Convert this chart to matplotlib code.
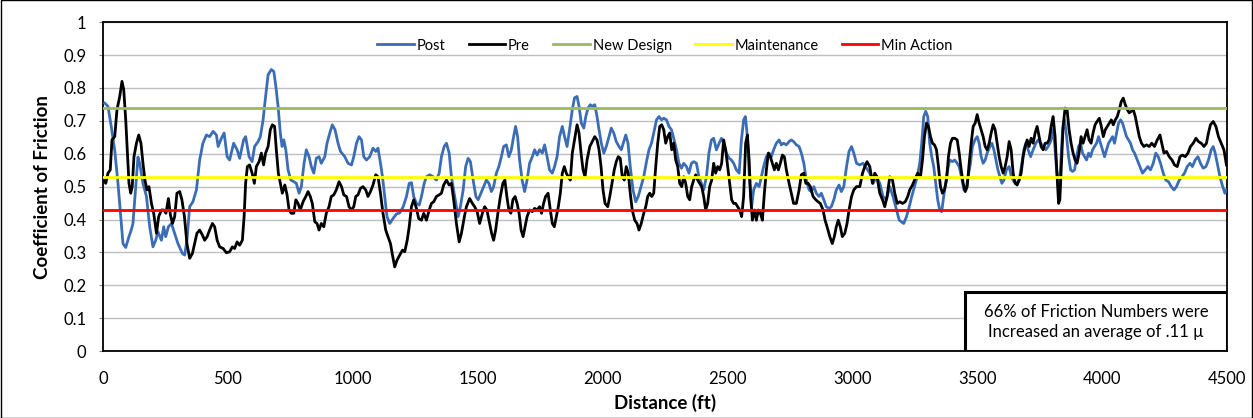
import matplotlib
matplotlib.use("Agg")
import matplotlib.pyplot as plt
from matplotlib.patches import Rectangle
import numpy as np

plt.rcParams['font.family'] = ['Lato', 'DejaVu Sans']

# (distance ft, coefficient of friction)
post = [
    (7, .754), (20, .744), (33, .683), (47, .61), (60, .51), (73, .39), (80, .327), (91, .315), (104, .348), (113, .368),
    (120, .388), (130, .49), (140, .59), (147, .57), (160, .51), (174, .47), (187, .378), (200, .317), (211, .337), (220, .363),
    (234, .337), (243, .378), (251, .348), (262, .378), (274, .388), (287, .358), (300, .327), (318, .297), (327, .292), (336, .337),
    (347, .439), (360, .454), (374, .49), (387, .581), (400, .632), (414, .657), (427, .652), (441, .668), (454, .657), (461, .622),
    (474, .647), (485, .663), (497, .591), (507, .581), (523, .632), (537, .612), (547, .586), (563, .642), (571, .652), (585, .591),
    (597, .576), (607, .622), (621, .637), (630, .652), (641, .703), (651, .774), (661, .84), (674, .856), (684, .85), (692, .805),
    (701, .744), (710, .663), (717, .622), (724, .642), (732, .612), (741, .551), (752, .52), (764, .515), (774, .51), (785, .48),
    (794, .50), (805, .571), (814, .612), (825, .591), (834, .561), (844, .541), (854, .586), (865, .591), (874, .571), (888, .591),
    (897, .632), (908, .663), (918, .688), (929, .673), (941, .632), (951, .607), (968, .591), (981, .571), (995, .566), (1004, .591),
    (1015, .632), (1025, .652), (1035, .642), (1044, .591), (1055, .581), (1068, .591), (1081, .617), (1092, .607), (1101, .617), (1111, .571),
    (1119, .53), (1128, .47), (1137, .409), (1148, .388), (1161, .403), (1175, .417), (1188, .42), (1202, .439), (1215, .47), (1226, .51),
    (1235, .512), (1244, .47), (1255, .449), (1266, .444), (1275, .47), (1286, .51), (1295, .53), (1308, .536), (1322, .53), (1335, .52),
    (1346, .541), (1355, .591), (1366, .622), (1375, .632), (1386, .602), (1395, .53), (1408, .47), (1422, .409), (1431, .439), (1442, .49),
    (1452, .561), (1462, .586), (1471, .576), (1482, .52), (1493, .47), (1502, .46),
    (1521, .495), (1535, .52), (1545, .51), (1555, .485), (1564, .50), (1575, .541), (1585, .561), (1595, .591), (1604, .622), (1615, .627),
    (1625, .591), (1635, .612), (1644, .652), (1652, .683), (1660, .652), (1668, .581), (1678, .52), (1688, .485), (1698, .52), (1708, .571),
    (1719, .591), (1728, .612), (1738, .596), (1748, .612), (1759, .602), (1768, .627), (1778, .591), (1788, .551), (1799, .541), (1808, .561),
    (1818, .591), (1828, .652), (1839, .683), (1848, .652), (1858, .622), (1868, .673), (1879, .734), (1888, .77), (1898, .774), (1906, .744),
    (1915, .693), (1925, .678), (1933, .713), (1942, .739), (1951, .749), (1959, .744), (1969, .749), (1978, .713), (1986, .673), (1995, .632),
    (2005, .602), (2015, .622), (2026, .652), (2035, .678), (2045, .663), (2055, .637), (2066, .622), (2075, .612), (2085, .637), (2093, .657),
    (2102, .632), (2111, .561), (2122, .49), (2133, .454), (2143, .47), (2154, .50), (2165, .53), (2176, .576), (2186, .612), (2196, .632),
    (2205, .663), (2216, .703), (2226, .713), (2236, .703), (2245, .708), (2256, .703), (2266, .683), (2276, .673), (2285, .647), (2296, .612),
    (2306, .571), (2316, .556), (2325, .571), (2336, .561), (2346, .541), (2356, .571), (2365, .576), (2376, .571), (2386, .53), (2396, .51),
    (2405, .49), (2416, .53), (2426, .602), (2436, .642), (2445, .647), (2456, .612), (2467, .632), (2476, .647), (2485, .632), (2496, .602),
    (2507, .586), (2516, .581), (2525, .571), (2536, .551), (2547, .541), (2556, .642), (2565, .703), (2572, .713), (2580, .652), (2589, .51),
    (2597, .439), (2605, .49), (2616, .51), (2627, .50), (2636, .53), (2645, .561), (2656, .591), (2667, .602), (2676, .591), (2685, .612),
    (2696, .632), (2707, .642), (2716, .627), (2725, .632), (2736, .627), (2747, .637), (2756, .642), (2765, .637), (2776, .627), (2787, .622),
    (2796, .602), (2806, .571), (2816, .52), (2827, .49), (2836, .485), (2846, .50), (2856, .48), (2867, .47), (2876, .48), (2886, .46),
    (2896, .439), (2907, .434), (2916, .439), (2926, .46), (2936, .49), (2947, .505), (2956, .485), (2966, .50), (2977, .561), (2987, .607),
    (2997, .622), (3006, .602), (3017, .571),
    (3030, .566), (3043, .571), (3057, .556), (3070, .541), (3083, .51), (3097, .53), (3110, .51), (3123, .47), (3137, .46), (3150, .50),
    (3163, .47), (3177, .429), (3188, .398), (3197, .393), (3206, .388), (3217, .409), (3228, .439), (3238, .47), (3249, .50), (3260, .53),
    (3270, .571), (3278, .632), (3286, .713), (3294, .729), (3302, .713), (3310, .632), (3318, .591), (3326, .561), (3334, .51), (3342, .46),
    (3350, .429), (3358, .424), (3366, .47), (3374, .51), (3382, .551), (3390, .581), (3401, .576), (3410, .581), (3420, .571), (3428, .561),
    (3437, .53), (3447, .49), (3455, .49), (3464, .53), (3473, .571), (3481, .622), (3491, .642), (3500, .652), (3508, .632), (3516, .591),
    (3524, .571), (3532, .581), (3540, .602), (3551, .622), (3559, .632), (3567, .612), (3575, .581), (3583, .551), (3591, .53), (3599, .51),
    (3607, .52), (3617, .551), (3628, .561), (3637, .53), (3647, .515), (3657, .51), (3668, .52), (3677, .561), (3687, .612), (3695, .632),
    (3704, .612), (3714, .591), (3724, .612), (3735, .632), (3744, .642), (3754, .632), (3764, .622), (3775, .612), (3784, .622), (3794, .637),
    (3802, .673), (3810, .632), (3818, .551), (3826, .49), (3834, .561), (3842, .673), (3850, .703), (3858, .652), (3866, .591), (3874, .551),
    (3882, .546), (3890, .551), (3898, .591), (3906, .622), (3914, .632), (3922, .602), (3930, .591), (3938, .581), (3946, .602), (3954, .591),
    (3962, .612), (3970, .622), (3978, .632), (3986, .652), (3994, .632), (4002, .612), (4010, .591), (4018, .612), (4026, .632), (4034, .642),
    (4042, .652), (4050, .632), (4058, .663), (4066, .693), (4074, .703), (4082, .693), (4090, .673), (4098, .652), (4106, .642), (4114, .632),
    (4122, .612), (4130, .602), (4141, .581), (4151, .561), (4162, .541), (4173, .551), (4183, .561), (4194, .551), (4205, .571), (4215, .602),
    (4225, .591), (4234, .571), (4245, .541), (4255, .52), (4266, .515), (4277, .50), (4288, .49), (4298, .50), (4309, .52), (4320, .53),
    (4330, .541), (4341, .561), (4352, .571), (4362, .561), (4373, .581), (4384, .591), (4394, .571), (4405, .556), (4416, .561), (4426, .581),
    (4437, .612), (4445, .622), (4453, .602), (4461, .571), (4472, .53), (4483, .50), (4492, .48), (4498, .49),
]

pre = [
    (3, .52), (11, .51), (20, .541), (29, .551), (36, .642), (47, .652), (56, .734), (67, .774), (76, .82), (83, .795),
    (91, .703), (97, .612), (104, .51), (111, .48), (117, .50), (124, .591), (134, .632), (143, .657), (152, .632), (160, .571),
    (168, .52), (176, .49), (184, .50), (194, .449), (203, .419), (214, .358), (223, .409), (234, .429), (243, .429), (252, .419),
    (262, .464), (270, .414), (278, .388), (287, .409), (296, .48), (307, .485), (316, .46), (326, .409), (336, .327), (347, .282),
    (358, .297), (367, .327), (376, .358), (387, .368), (398, .353), (407, .337), (417, .348), (427, .368), (438, .388), (447, .378),
    (457, .337), (467, .317), (481, .312), (494, .299), (507, .302), (518, .317), (527, .312), (537, .332), (547, .322), (558, .337),
    (565, .409), (571, .51), (578, .561), (587, .566), (597, .541), (606, .51), (614, .561), (625, .576), (634, .602), (643, .566),
    (651, .602), (661, .622), (670, .673), (678, .688), (687, .683), (694, .612), (702, .541), (710, .51), (718, .48), (728, .505),
    (737, .475), (745, .429), (754, .419), (764, .419), (772, .46), (781, .449), (790, .429), (801, .454), (812, .47), (821, .485),
    (830, .47), (838, .449), (848, .393), (857, .388), (865, .368), (874, .388), (884, .378), (894, .419), (905, .439), (914, .47),
    (924, .475), (934, .49), (945, .515), (955, .50), (964, .475), (975, .47), (985, .439), (995, .429), (1004, .439), (1012, .47),
    (1021, .475), (1031, .495), (1041, .50), (1052, .49), (1061, .47), (1071, .485), (1081, .505), (1092, .536), (1101, .53), (1111, .48),
    (1121, .419), (1132, .368), (1141, .348), (1151, .327), (1159, .292), (1168, .256), (1177, .276), (1188, .292), (1199, .307), (1208, .302),
    (1218, .337), (1226, .378), (1235, .439), (1244, .46), (1255, .434), (1264, .403), (1275, .398), (1284, .419), (1295, .398), (1306, .429),
    (1315, .449), (1324, .454), (1335, .47), (1346, .475), (1355, .48), (1364, .505), (1375, .52), (1386, .505), (1395, .51), (1404, .46),
    (1415, .388), (1426, .332), (1435, .358), (1447, .409), (1455, .439), (1468, .464), (1479, .449), (1488, .439), (1498, .424),
    (1508, .388), (1519, .419), (1528, .439), (1537, .429), (1548, .388), (1556, .358), (1564, .337), (1572, .368), (1581, .419), (1591, .47),
    (1601, .51), (1609, .52), (1617, .47), (1625, .429), (1633, .419), (1641, .46), (1650, .47), (1658, .449), (1666, .419), (1674, .368),
    (1682, .348), (1690, .378), (1698, .409), (1708, .429), (1719, .424), (1728, .434), (1738, .429), (1748, .439), (1756, .419), (1764, .449),
    (1772, .47), (1782, .48), (1791, .429), (1799, .388), (1807, .378), (1815, .409), (1823, .439), (1831, .48), (1839, .541), (1847, .561),
    (1855, .541), (1863, .53), (1871, .52), (1879, .602), (1888, .642), (1898, .688), (1906, .663), (1914, .602), (1922, .551), (1930, .53),
    (1938, .581), (1949, .622), (1959, .637), (1969, .652), (1978, .642), (1986, .612), (1994, .561), (2002, .49), (2010, .449), (2021, .439),
    (2029, .47), (2038, .51), (2047, .551), (2055, .576), (2063, .591), (2071, .586), (2079, .53), (2087, .52), (2095, .561), (2103, .541),
    (2111, .48), (2119, .429), (2129, .398), (2138, .388), (2146, .368), (2155, .388), (2165, .419), (2173, .439), (2181, .47), (2189, .48),
    (2197, .47), (2205, .48), (2213, .561), (2221, .632), (2229, .683), (2237, .688), (2245, .673), (2253, .632), (2261, .652), (2269, .663),
    (2277, .612), (2285, .632), (2293, .581), (2301, .561), (2309, .51), (2317, .50), (2325, .53), (2333, .51), (2341, .47), (2349, .46),
    (2357, .50), (2365, .52), (2373, .536), (2381, .52), (2389, .51), (2397, .50), (2405, .47), (2413, .429), (2421, .449), (2429, .50),
    (2437, .52), (2445, .571), (2453, .541), (2461, .561), (2469, .551), (2477, .571), (2485, .642), (2493, .612), (2501, .561), (2509, .51),
    (2517, .46), (2525, .449), (2533, .449), (2541, .439), (2549, .429), (2557, .409), (2565, .47), (2573, .632), (2580, .657), (2587, .581),
    (2593, .47), (2600, .398), (2608, .429), (2616, .398), (2624, .429), (2632, .419), (2640, .398), (2648, .48), (2656, .551), (2664, .602),
    (2672, .591), (2680, .571), (2688, .551), (2696, .571), (2704, .551), (2712, .571), (2720, .596), (2728, .591), (2736, .551), (2747, .51),
    (2756, .48), (2765, .449), (2776, .449), (2787, .49), (2796, .536), (2806, .541), (2814, .51), (2823, .51), (2832, .50), (2843, .47),
    (2854, .46), (2863, .454), (2872, .449), (2883, .429), (2891, .398), (2899, .378), (2910, .348), (2920, .327), (2928, .348), (2936, .378),
    (2944, .398), (2952, .378), (2960, .348), (2970, .358), (2979, .388), (2987, .429), (2997, .47), (3006, .49), (3017, .50),
    (3030, .50), (3041, .541), (3050, .561), (3059, .576), (3070, .561), (3081, .51), (3090, .541), (3099, .53), (3110, .48), (3121, .46),
    (3130, .439), (3139, .47), (3150, .53), (3161, .52), (3170, .48), (3180, .449), (3190, .454), (3201, .449), (3212, .454), (3222, .47),
    (3230, .49), (3241, .505), (3252, .525), (3262, .541), (3273, .53), (3281, .581), (3289, .652), (3297, .693), (3305, .683), (3313, .652),
    (3321, .632), (3329, .627), (3337, .612), (3345, .561), (3353, .50), (3361, .48), (3369, .49), (3377, .52), (3385, .591), (3393, .632),
    (3401, .647), (3410, .647), (3420, .642), (3428, .602), (3436, .551), (3444, .51), (3452, .485), (3460, .50), (3468, .571), (3476, .632),
    (3484, .683), (3492, .693), (3500, .719), (3508, .693), (3516, .673), (3524, .652), (3532, .622), (3540, .612), (3548, .632), (3556, .663),
    (3564, .688), (3572, .673), (3580, .632), (3588, .591), (3596, .561), (3604, .541), (3612, .561), (3620, .591), (3628, .637), (3636, .612),
    (3644, .541), (3652, .51), (3660, .505), (3668, .52), (3676, .541), (3684, .591), (3692, .622), (3700, .642), (3708, .622), (3716, .647),
    (3724, .632), (3732, .663), (3740, .683), (3748, .652), (3756, .622), (3764, .612), (3772, .632), (3780, .632), (3788, .642), (3796, .683),
    (3804, .713), (3812, .652), (3820, .53), (3826, .449), (3831, .46), (3838, .581), (3844, .683), (3852, .739), (3860, .734), (3868, .673),
    (3876, .632), (3884, .602), (3892, .581), (3900, .571), (3908, .602), (3916, .652), (3924, .632), (3932, .652), (3940, .673), (3948, .642),
    (3956, .632), (3964, .663), (3972, .688), (3980, .698), (3989, .708), (3997, .683), (4005, .652), (4013, .673), (4021, .683), (4029, .693),
    (4037, .703), (4045, .688), (4053, .703), (4061, .713), (4069, .734), (4077, .759), (4085, .769), (4093, .749), (4101, .734), (4109, .724),
    (4117, .729), (4125, .734), (4133, .713), (4141, .683), (4149, .652), (4158, .632), (4167, .622), (4178, .627), (4189, .622), (4199, .632),
    (4210, .622), (4221, .642), (4232, .657), (4239, .632), (4248, .602), (4258, .607), (4269, .591), (4280, .581), (4290, .566), (4301, .561),
    (4312, .591), (4322, .596), (4333, .591), (4344, .602), (4354, .622), (4365, .632), (4376, .647), (4386, .637), (4397, .632), (4408, .622),
    (4418, .632), (4426, .663), (4434, .688), (4445, .698), (4456, .683), (4466, .652), (4477, .632), (4488, .612), (4498, .566),
]

thresholds = [("New Design", 0.74, "#9BBB59"),
              ("Maintenance", 0.53, "#FFFF00"),
              ("Min Action", 0.43, "#FF0000")]

note = "66% of Friction Numbers were\nIncreased an average of .11 \u00b5"

post_ft, post_mu = np.array(post).T
pre_ft, pre_mu = np.array(pre).T

fig = plt.figure(figsize=(12.53, 4.18), dpi=100)
ax = fig.add_axes([0.0822, 0.160, 0.897, 0.787])

ax.plot(post_ft, post_mu, color="#3B6DB7", lw=2.0, label="Post", zorder=3)
ax.plot(pre_ft, pre_mu, color="black", lw=2.0, label="Pre", zorder=4)
for name, val, col in thresholds:
    ax.axhline(val, color=col, lw=2.0, label=name, zorder=5)

ax.set_xlim(0, 4500)
ax.set_ylim(0, 1)
ax.set_xticks(np.arange(0, 4501, 500))
ax.set_yticks(np.arange(0, 1.01, 0.1))
ax.set_yticklabels(["0", "0.1", "0.2", "0.3", "0.4", "0.5", "0.6", "0.7", "0.8", "0.9", "1"])
ax.yaxis.grid(True, color="#BFBFBF", lw=1)
ax.set_axisbelow(True)
ax.tick_params(axis="both", labelsize=12, length=3, color="#808080")
ax.tick_params(axis="y", pad=9)
ax.tick_params(axis="x", length=0, pad=14)
for sp in ax.spines.values():
    sp.set_color("black")
    sp.set_linewidth(1.3)

ax.set_xlabel("Distance (ft)", fontsize=13.5, fontweight="bold", labelpad=5)
ax.set_ylabel("Coefficient of Friction", fontsize=13.5, fontweight="bold", labelpad=9)

ax.legend(loc="upper center", bbox_to_anchor=(0.5, 0.99), ncol=5, frameon=False,
          fontsize=10.5, handlelength=2.5, handletextpad=0.2, columnspacing=1.6)

ax.add_patch(Rectangle((0.767, 0.0), 0.233, 0.179, transform=ax.transAxes,
                       facecolor="white", edgecolor="black", lw=2.2, zorder=6))
ax.text(0.8835, 0.0895, note, transform=ax.transAxes, ha="center", va="center",
        fontsize=12, linespacing=1.3, zorder=7)

fig.patches.append(Rectangle((0.0005, 0.001), 0.999, 0.998, transform=fig.transFigure,
                             fill=False, edgecolor="black", lw=1.0))

fig.savefig("out.png", dpi=100)
